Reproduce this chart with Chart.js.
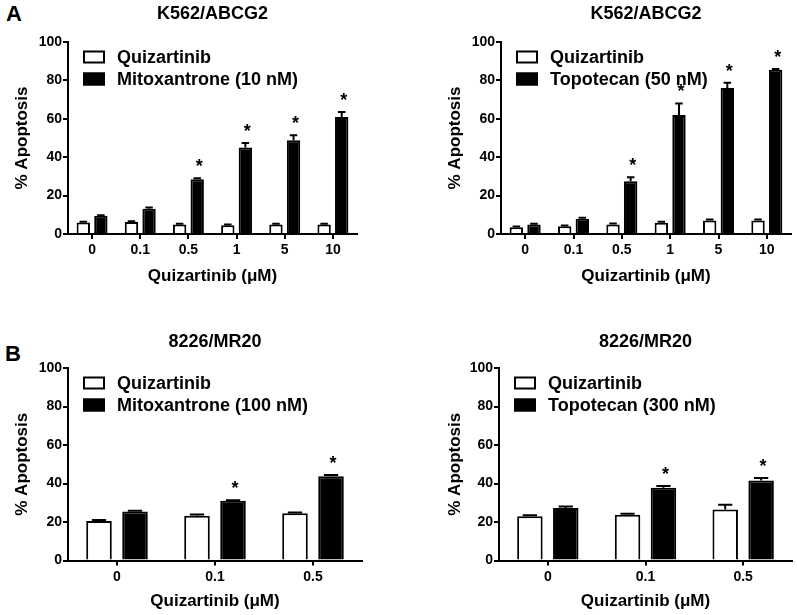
<!DOCTYPE html>
<html>
<head>
<meta charset="utf-8">
<script src="https://cdn.jsdelivr.net/npm/chart.js@4/dist/chart.umd.min.js"></script>
<style>
body { margin: 0; background: #fff; }
#page { position: relative; width: 797px; height: 615px; }
.panel { position: absolute; }
.letter { position: absolute; font: bold 22px 'Liberation Sans', Arial, sans-serif; line-height: 22px; color: #000; }
</style>
</head>
<body>
<div id="page">
  <div class="letter" style="left:6px;top:3px">A</div>
  <div class="letter" style="left:5px;top:343px">B</div>
  <div class="panel" style="left:0;top:0;width:400px;height:300px"><canvas id="chartA1"></canvas></div>
  <div class="panel" style="left:400px;top:0;width:397px;height:300px"><canvas id="chartA2"></canvas></div>
  <div class="panel" style="left:0;top:300px;width:400px;height:315px"><canvas id="chartB1"></canvas></div>
  <div class="panel" style="left:400px;top:300px;width:397px;height:315px"><canvas id="chartB2"></canvas></div>
</div>
<script>
// doses (x categories)
const dosesA = ['0', '0.1', '0.5', '1', '5', '10'];
const dosesB = ['0', '0.1', '0.5'];

// A, left: K562/ABCG2 + mitoxantrone 10 nM
const a1Quiz = [6, 6.2, 5, 4.5, 5, 5];
const a1QuizErr = [0.4, 0.4, 0.4, 0.4, 0.4, 0.4];
const a1Mito = [9.5, 13.2, 28.5, 45, 48.8, 61];
const a1MitoErr = [0.3, 0.6, 0.6, 2.4, 2.6, 2.6];
const a1Sig = [false, false, true, true, true, true];

// A, right: K562/ABCG2 + topotecan 50 nM
const a2Quiz = [3.5, 4, 5, 5.8, 7, 7];
const a2QuizErr = [0.4, 0.4, 0.5, 0.6, 0.5, 0.5];
const a2Topo = [5, 8, 27.5, 62, 76, 85.5];
const a2TopoErr = [0.3, 0.4, 2, 6, 2.8, 0.5];
const a2Sig = [false, false, true, true, true, true];

// B, left: 8226/MR20 + mitoxantrone 100 nM
const b1Quiz = [20.5, 23.3, 24.5];
const b1QuizErr = [0.5, 0.6, 0.5];
const b1Mito = [25.5, 31, 43.8];
const b1MitoErr = [0.4, 0.3, 0.6];
const b1Sig = [false, true, true];

// B, right: 8226/MR20 + topotecan 300 nM
const b2Quiz = [23, 23.8, 26.5];
const b2QuizErr = [0.5, 0.5, 2.5];
const b2Topo = [27.3, 37.8, 41.5];
const b2TopoErr = [0.8, 0.9, 1.3];
const b2Sig = [false, true, true];

const FONT = "'Liberation Sans', Arial, sans-serif";
Chart.defaults.font.family = FONT;
Chart.defaults.color = '#000';

// upward error bars + significance stars
const errorBars = {
    id: 'errorBars',
    afterDatasetsDraw(chart) {
        const ctx = chart.ctx;
        const y = chart.scales.y;
        ctx.save();
        ctx.strokeStyle = '#000';
        ctx.fillStyle = '#000';
        ctx.lineWidth = 2;
        chart.data.datasets.forEach((ds, i) => {
            chart.getDatasetMeta(i).data.forEach((bar, j) => {
                const top = y.getPixelForValue(ds.data[j] + ds.errors[j]);
                const half = bar.width * 0.28;
                ctx.beginPath();
                ctx.moveTo(bar.x, bar.y);
                ctx.lineTo(bar.x, top);
                ctx.moveTo(bar.x - half, top);
                ctx.lineTo(bar.x + half, top);
                ctx.stroke();
                if (ds.sig && ds.sig[j]) {
                    ctx.font = 'bold 18px ' + FONT;
                    ctx.textAlign = 'center';
                    ctx.textBaseline = 'alphabetic';
                    ctx.fillText('*', bar.x + 2, top - 6);
                }
            });
        });
        ctx.restore();
    }
};

// legend with square boxes inside the plot, top left
const boxLegend = {
    id: 'boxLegend',
    afterDraw(chart) {
        const ctx = chart.ctx;
        const area = chart.chartArea;
        ctx.save();
        ctx.font = 'bold 18px ' + FONT;
        ctx.textAlign = 'left';
        ctx.textBaseline = 'middle';
        chart.data.datasets.forEach((ds, i) => {
            const x = area.left + 15;
            const cy = area.top + 15 + i * 22;
            ctx.fillStyle = ds.backgroundColor;
            ctx.fillRect(x, cy - 6.5, 22, 13);
            ctx.strokeStyle = '#000';
            ctx.lineWidth = 2;
            ctx.strokeRect(x + 1, cy - 5.5, 20, 11);
            ctx.fillStyle = '#000';
            ctx.fillText(ds.label, x + 34, cy + 1);
        });
        ctx.restore();
    }
};

function makeChart(id, labels, sets, lay) {
    return new Chart(document.getElementById(id), {
        type: 'bar',
        data: {
            labels: labels,
            datasets: sets.map((s, i) => ({
                label: s.label,
                data: s.data,
                errors: s.errors,
                sig: s.sig,
                backgroundColor: i === 0 ? '#fff' : '#000',
                borderColor: '#000',
                borderWidth: 2,
                categoryPercentage: lay.catPct,
                barPercentage: lay.barPct
            }))
        },
        options: {
            responsive: true,
            maintainAspectRatio: false,
            animation: false,
            layout: { padding: { top: 0, right: lay.padRight, bottom: 0, left: 0 } },
            plugins: {
                legend: { display: false },
                tooltip: { enabled: false },
                title: {
                    display: true,
                    text: lay.title,
                    fullSize: false,
                    color: '#000',
                    font: { size: 18, weight: 'bold' },
                    padding: { top: lay.titleTop, bottom: lay.titleBottom }
                }
            },
            scales: {
                x: {
                    offset: true,
                    grid: { display: true, drawOnChartArea: false, offset: false, tickLength: 5, lineWidth: 2, color: '#000' },
                    border: { display: true, color: '#000', width: 2 },
                    ticks: { padding: 3, maxRotation: 0, color: '#000', font: { size: 14, weight: 'bold' } },
                    title: {
                        display: true,
                        text: 'Quizartinib (\u03bcM)',
                        color: '#000',
                        font: { size: 17, weight: 'bold' },
                        padding: { top: 0, bottom: lay.xTitlePad }
                    },
                    afterFit: s => { s.height = lay.xHeight; }
                },
                y: {
                    min: 0,
                    max: 100,
                    grid: { drawOnChartArea: false, tickLength: 5, lineWidth: 2, color: '#000' },
                    border: { color: '#000', width: 2 },
                    ticks: { stepSize: 20, padding: 1, color: '#000', font: { size: 14, weight: 'bold' } },
                    title: {
                        display: true,
                        text: '% Apoptosis',
                        color: '#000',
                        font: { size: 17, weight: 'bold' },
                        padding: { top: lay.yTitlePad, bottom: 0 }
                    },
                    afterFit: s => { s.width = lay.yWidth; }
                }
            }
        },
        plugins: [errorBars, boxLegend]
    });
}

makeChart('chartA1', dosesA, [
    { label: 'Quizartinib', data: a1Quiz, errors: a1QuizErr },
    { label: 'Mitoxantrone (10 nM)', data: a1Mito, errors: a1MitoErr, sig: a1Sig }
], { title: 'K562/ABCG2', padRight: 43, yWidth: 68, xHeight: 66, titleTop: 3, titleBottom: 17.4,
     yTitlePad: 12, xTitlePad: 13.8, catPct: 0.73, barPct: 0.76 });

makeChart('chartA2', dosesA, [
    { label: 'Quizartinib', data: a2Quiz, errors: a2QuizErr },
    { label: 'Topotecan (50 nM)', data: a2Topo, errors: a2TopoErr, sig: a2Sig }
], { title: 'K562/ABCG2', padRight: 6, yWidth: 101, xHeight: 66, titleTop: 3, titleBottom: 17.4,
     yTitlePad: 44.8, xTitlePad: 13.8, catPct: 0.73, barPct: 0.76 });

makeChart('chartB1', dosesB, [
    { label: 'Quizartinib', data: b1Quiz, errors: b1QuizErr },
    { label: 'Mitoxantrone (100 nM)', data: b1Mito, errors: b1MitoErr, sig: b1Sig }
], { title: '8226/MR20', padRight: 38, yWidth: 68, xHeight: 54.5, titleTop: 31.7, titleBottom: 14.7,
     yTitlePad: 12, xTitlePad: 3.1, catPct: 0.735, barPct: 0.71 });

makeChart('chartB2', dosesB, [
    { label: 'Quizartinib', data: b2Quiz, errors: b2QuizErr },
    { label: 'Topotecan (300 nM)', data: b2Topo, errors: b2TopoErr, sig: b2Sig }
], { title: '8226/MR20', padRight: 5, yWidth: 99, xHeight: 54.5, titleTop: 31.7, titleBottom: 14.7,
     yTitlePad: 44.8, xTitlePad: 3.1, catPct: 0.735, barPct: 0.71 });
</script>
</body>
</html>
